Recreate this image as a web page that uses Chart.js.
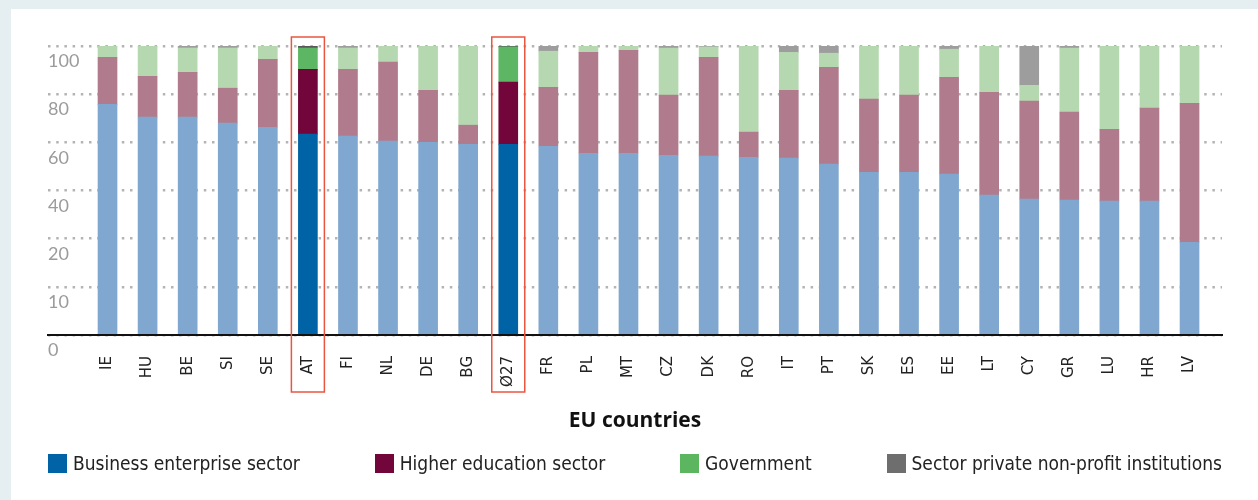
<!DOCTYPE html>
<html>
<head>
<meta charset="utf-8">
<script src="https://cdn.jsdelivr.net/npm/chart.js@4/dist/chart.umd.min.js"></script>
<style>
  html, body { margin: 0; padding: 0; }
  body { width: 1258px; height: 500px; background: #e5eef1; position: relative; overflow: hidden; }
  #card { position: absolute; left: 11px; top: 9px; right: 0; bottom: 0; background: #ffffff; }
  #chart { position: absolute; left: 0; top: 0; }
  #legend { position: absolute; left: 48px; top: 454px; width: 1174px; display: flex; justify-content: space-between;
            font-family: "Liberation Sans Narrow", "DejaVu Sans Condensed", "Roboto", sans-serif; font-stretch: condensed;
            font-size: 19px; color: #222; line-height: 19px; }
  .item { display: flex; align-items: center; white-space: nowrap; }
  .swatch { width: 19px; height: 19px; margin-right: 6px; flex: none; }
</style>
</head>
<body>
<div id="card"></div>
<canvas id="chart" width="1258" height="500"></canvas>
<div id="legend"></div>
<script>
const categories = ['IE','HU','BE','SI','SE','AT','FI','NL','DE','BG','Ø27','FR','PL','MT','CZ','DK','RO','IT','PT','SK','ES','EE','LT','CY','GR','LU','HR','LV'];
const business = [79.8,75.4,75.4,73.3,71.9,69.5,68.8,67.1,66.7,66.0,66.0,65.3,62.9,62.9,62.2,61.9,61.5,61.2,59.1,56.3,56.3,55.7,48.4,47.0,46.7,46.3,46.3,32.1];
const higherEducation = [16.3,14.1,15.5,12.1,23.5,22.4,23.1,27.3,18.0,6.6,21.5,20.4,34.9,35.6,20.8,34.2,8.7,23.5,33.5,25.3,26.7,33.5,35.6,33.9,30.4,24.9,32.2,48.1];
const government = [3.9,10.5,8.4,13.9,4.6,7.4,7.4,5.6,15.3,27.4,12.2,12.5,2.2,1.5,16.3,3.6,29.8,13.1,4.9,18.4,17.0,9.7,16.0,5.5,22.2,28.8,21.5,19.8];
const privateNonProfit = [0,0,0.7,0.7,0,0.7,0.7,0,0,0,0.3,1.8,0,0,0.7,0.3,0,2.2,2.5,0,0,1.1,0,13.6,0.7,0,0,0];
const seriesNames = ['Business enterprise sector','Higher education sector','Government','Sector private non-profit institutions'];
const highlighted = ['AT','Ø27'];
const yTickValues = [0, 16.667, 33.333, 50, 66.667, 83.333, 100];
const yTickLabels = ['0','10','20','40','60','80','100'];
const xAxisTitle = 'EU countries';

const darkColors = ['#0063a6','#72063a','#5db664','#575757'];
const lightColors = ['#7fa7cf','#b07b8c','#b6d8b1','#9d9d9d'];
const legendColors = ['#0063a6','#72063a','#5cb660','#6e6e6e'];
const seriesValues = [business, higherEducation, government, privateNonProfit];

const datasets = seriesValues.map((vals, s) => ({
  label: seriesNames[s],
  data: vals,
  backgroundColor: (ctx) => highlighted.includes(categories[ctx.dataIndex]) ? darkColors[s] : lightColors[s],
  borderWidth: 0,
  barThickness: 19
}));

const highlightBoxes = {
  id: 'highlightBoxes',
  afterDraw(chart) {
    const {ctx, chartArea} = chart;
    const x = chart.scales.x;
    ctx.save();
    ctx.strokeStyle = '#ea553f';
    ctx.lineWidth = 1.5;
    highlighted.forEach(c => {
      const px = x.getPixelForValue(categories.indexOf(c));
      const top = chartArea.top - 9;
      const bottom = chartArea.bottom + 57;
      ctx.strokeRect(px - 16.5, top, 33, bottom - top);
    });
    ctx.restore();
  }
};

new Chart(document.getElementById('chart'), {
  type: 'bar',
  data: { labels: categories.map((_, i) => i), datasets },
  plugins: [highlightBoxes],
  options: {
    responsive: false,
    animation: false,
    devicePixelRatio: 1,
    layout: { padding: { left: 48, right: 36, top: 46, bottom: 66 } },
    plugins: { legend: { display: false }, tooltip: { enabled: false } },
    scales: {
      x: {
        type: 'linear',
        stacked: true,
        offset: false,
        min: -1.485,
        max: 27.81,
        afterBuildTicks: (s) => { s.ticks = categories.map((_, i) => ({ value: i })); },
        afterFit: (s) => { s.height = 99; },
        grid: { display: false },
        border: { display: true, color: '#111', width: 2 },
        ticks: {
          autoSkip: false, maxRotation: 90, minRotation: 90, padding: 13,
          color: '#222', font: { family: 'DejaVu Sans', size: 15 },
          callback: (v) => categories[v]
        },
        title: {
          display: true, text: xAxisTitle, color: '#111',
          font: { family: 'Open Sans', size: 21, weight: 'bold' },
          padding: { top: 0, bottom: 0 }
        }
      },
      y: {
        stacked: true,
        min: 0,
        max: 100,
        afterBuildTicks: (s) => { s.ticks = yTickValues.map(v => ({ value: v })); },
        afterFit: (s) => { s.width = 0; },
        grid: { color: '#b4b4b4', lineWidth: 2.5, drawTicks: false },
        border: { display: false, dash: [2.5, 5.7] },
        ticks: {
          mirror: true, padding: 0, labelOffset: 15.5,
          color: '#9b9b9b', font: { family: 'Lato', size: 18 },
          callback: (v, i) => yTickLabels[i]
        }
      }
    }
  }
});

const legendEl = document.getElementById('legend');
seriesNames.forEach((name, s) => {
  const item = document.createElement('div');
  item.className = 'item';
  const sw = document.createElement('span');
  sw.className = 'swatch';
  sw.style.background = legendColors[s];
  const tx = document.createElement('span');
  tx.textContent = name;
  item.appendChild(sw);
  item.appendChild(tx);
  legendEl.appendChild(item);
});
</script>
</body>
</html>
